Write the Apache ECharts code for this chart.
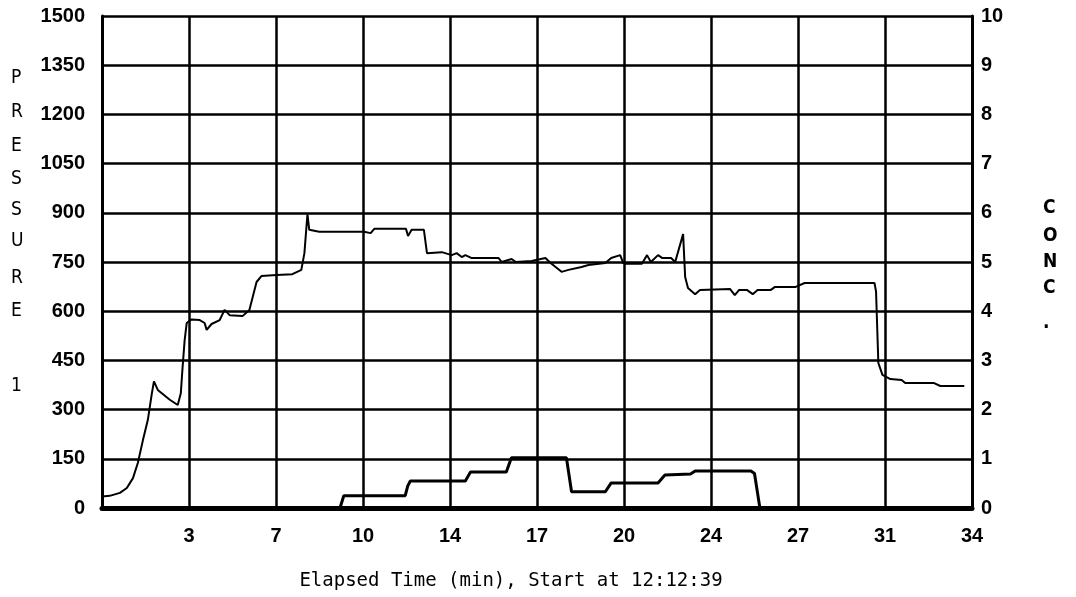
<!DOCTYPE html>
<html>
<head>
<meta charset="utf-8">
<script src="https://cdn.jsdelivr.net/npm/echarts@6/dist/echarts.min.js"></script>
<style>
html,body{margin:0;padding:0;background:#fff;}
#chart{width:1076px;height:597px;}
</style>
</head>
<body>
<div id="chart"></div>
<script>
// Elapsed time (min) for the pressure trace
var pressureTime = [0.0,0.3,0.7,0.97,1.21,1.40,1.60,1.79,1.95,2.03,2.18,2.65,2.96,3.08,3.15,3.23,3.31,3.50,3.82,4.01,4.09,4.28,4.60,4.79,4.99,5.49,5.76,6.04,6.23,6.82,7.44,7.79,7.91,7.99,8.03,8.10,8.49,10.24,10.5,10.64,11.88,11.96,12.1,12.58,12.70,13.28,13.67,13.86,14.06,14.2,14.45,15.50,15.62,16.01,16.17,16.79,17.33,17.53,17.96,18.23,18.74,19.01,19.67,19.90,20.25,20.37,20.45,21.1,21.3,21.45,21.73,21.9,22.24,22.4,22.71,22.79,22.9,23.18,23.37,24.54,24.73,24.9,25.2,25.43,25.62,26.14,26.3,27.11,27.46,30.19,30.25,30.34,30.50,30.81,31.25,31.39,32.52,32.76,33.7];
// Pressure values (left axis)
var pressureValue = [35,37,46,61,91,137,207,268,350,386,360,330,314,350,430,512,564,575,573,564,543,561,573,604,588,585,604,689,707,710,713,726,777,857,895,848,842,842,838,851,851,829,848,848,777,780,771,777,765,771,762,762,750,759,750,753,762,747,720,726,735,741,747,762,771,747,745,745,771,750,771,762,762,750,835,704,671,652,665,668,649,665,665,652,665,665,674,674,686,686,660,442,406,393,390,381,381,372,372];
// Elapsed time (min) for the concentration trace
var concTime = [0,9.3,9.45,11.85,11.95,12.05,14.2,14.4,15.8,16.0,18.15,18.35,19.67,19.9,21.73,22.0,23.0,23.18,25.36,25.5,25.71,34];
// Concentration values (right axis)
var concValue = [0,0,0.25,0.25,0.45,0.55,0.55,0.73,0.73,1.02,1.02,0.33,0.33,0.51,0.51,0.67,0.69,0.75,0.75,0.7,0,0];

var leftTitleLetters = ['P','R','E','S','S','U','R','E','1'];
var rightTitleLetters = ['C','O','N','C','.'];
var xTitle = 'Elapsed Time (min), Start at 12:12:39';

function zip(a, b){ var r=[]; for (var i=0;i<a.length;i++) r.push([a[i], b[i]]); return r; }

var sansFam = "'Liberation Sans', Arial, sans-serif";
var condFam = "'DejaVu Sans Condensed', 'Liberation Sans', sans-serif";
var labelFont = {color:'#000', fontFamily: sansFam, fontWeight:'bold', fontSize:20};

var leftY = [80,114,148,181,212,243,280,313,388];
var rightY = [210,238,264,290,325];
var graphics = [];
leftTitleLetters.forEach(function(l,i){
  graphics.push({type:'text', left:11, top:leftY[i]-11, style:{text:l, fill:'#000', font:"19px " + condFam}});
});
rightTitleLetters.forEach(function(l,i){
  graphics.push({type:'text', left:1043, top:rightY[i]-11, style:{text:l, fill:'#000', font:"bold 19px " + condFam}});
});

var chart = echarts.init(document.getElementById('chart'));
chart.setOption({
  animation:false,
  backgroundColor:'#fff',
  grid:{left:102, right:104, top:16, bottom:89},
  title:{text:xTitle, left:506, top:567, textAlign:'center',
    textStyle:{fontFamily:"'DejaVu Sans Mono', monospace", fontWeight:'normal', fontSize:19, color:'#000'}},
  graphic:graphics,
  xAxis:{type:'value', min:0, max:34, interval:3.4,
    axisLine:{show:true, onZero:false, lineStyle:{color:'#000', width:5}},
    axisTick:{show:false},
    splitLine:{show:true, lineStyle:{color:'#000', width:2.5}},
    axisLabel:Object.assign({margin:18, showMinLabel:false,
      formatter:function(v){ return v===0 ? '' : String(Math.round(v)); }}, labelFont)
  },
  yAxis:[
    {type:'value', min:0, max:1500, interval:150, position:'left',
      axisLine:{show:true, lineStyle:{color:'#000', width:3}},
      axisTick:{show:false},
      splitLine:{show:true, lineStyle:{color:'#000', width:2.5}},
      axisLabel:Object.assign({margin:17, formatter:function(v){ return String(v); }}, labelFont)
    },
    {type:'value', min:0, max:10, interval:1, position:'right',
      axisLine:{show:true, lineStyle:{color:'#000', width:3}},
      axisTick:{show:false},
      splitLine:{show:false},
      axisLabel:Object.assign({margin:9, formatter:function(v){ return String(v); }}, labelFont)
    }
  ],
  series:[
    {type:'line', name:'Pressure', yAxisIndex:0, data:zip(pressureTime, pressureValue),
      showSymbol:false, lineStyle:{color:'#000', width:2}},
    {type:'line', name:'Conc', yAxisIndex:1, data:zip(concTime, concValue),
      showSymbol:false, lineStyle:{color:'#000', width:3}}
  ]
});
</script>
</body>
</html>
